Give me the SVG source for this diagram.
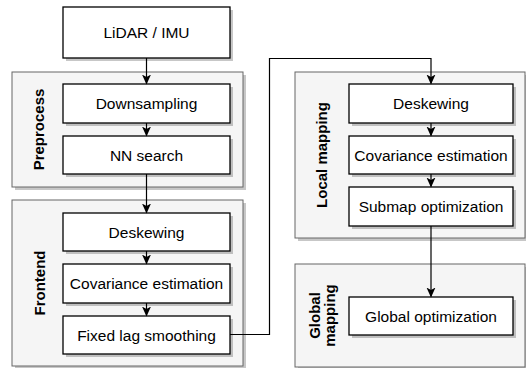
<svg xmlns="http://www.w3.org/2000/svg" width="526" height="368" viewBox="0 0 526 368">
<defs>
<marker id="arr" viewBox="0 0 10 10" refX="9" refY="5" markerWidth="10" markerHeight="10" markerUnits="userSpaceOnUse" orient="auto">
<path d="M0,0.5 L10,5 L0,9.5 L2.5,5 Z" fill="#000"/>
</marker>
</defs>
<style>
.grp{fill:#f5f5f5;stroke:#666;stroke-width:1}
.sh{fill:#000;opacity:0.22}
.box{fill:#fff;stroke:#000;stroke-width:1.3}
.t{font-family:"Liberation Sans",Arial,sans-serif;font-size:15.5px;text-anchor:middle;fill:#000}
.lbl{font-family:"Liberation Sans",Arial,sans-serif;font-size:15px;font-weight:bold;text-anchor:middle;fill:#000}
.c{fill:none;stroke:#000;stroke-width:1.2}
</style>
<rect width="526" height="368" fill="#fff"/>

<g id="preprocess">
<rect class="sh" x="15" y="75" width="231" height="115"/>
<rect class="grp" x="12" y="72" width="231" height="115"/>
<text class="lbl" transform="translate(0,129.5) rotate(-90)" x="0" y="44">Preprocess</text>
</g>
<g id="frontend">
<rect class="sh" x="15" y="203" width="231" height="166"/>
<rect class="grp" x="12" y="200" width="231" height="166"/>
<text class="lbl" transform="translate(0,283) rotate(-90)" x="0" y="44.5">Frontend</text>
</g>
<g id="local-mapping">
<rect class="sh" x="298" y="75" width="230" height="166"/>
<rect class="grp" x="295" y="72" width="230" height="166"/>
<text class="lbl" transform="translate(0,155) rotate(-90)" x="0" y="326.5">Local mapping</text>
</g>
<g id="global-mapping">
<rect class="sh" x="298" y="267" width="230" height="103"/>
<rect class="grp" x="295" y="264" width="230" height="103"/>
<text class="lbl" transform="translate(0,315.5) rotate(-90)"><tspan x="0" y="319.5">Global</tspan><tspan x="0" y="334.5">mapping</tspan></text>
</g>

<g id="lidar-imu">
<rect class="sh" x="66" y="10" width="167" height="51"/>
<rect class="box" x="63" y="7" width="167" height="51"/>
<text class="t" x="146.5" y="38">LiDAR / IMU</text>
</g>
<g id="downsampling">
<rect class="sh" x="66" y="87" width="167" height="39"/>
<rect class="box" x="63" y="84" width="167" height="39"/>
<text class="t" x="146.5" y="109">Downsampling</text>
</g>
<g id="nn-search">
<rect class="sh" x="66" y="139" width="167" height="38"/>
<rect class="box" x="63" y="136" width="167" height="38"/>
<text class="t" x="146.5" y="160.5">NN search</text>
</g>
<g id="fe-deskewing">
<rect class="sh" x="66" y="216" width="167" height="38"/>
<rect class="box" x="63" y="213" width="167" height="38"/>
<text class="t" x="146.5" y="237.5">Deskewing</text>
</g>
<g id="fe-covariance">
<rect class="sh" x="66" y="267" width="167" height="39"/>
<rect class="box" x="63" y="264" width="167" height="39"/>
<text class="t" x="146.5" y="289">Covariance estimation</text>
</g>
<g id="fixed-lag">
<rect class="sh" x="66" y="319" width="167" height="38"/>
<rect class="box" x="63" y="316" width="167" height="38"/>
<text class="t" x="146.5" y="340.5">Fixed lag smoothing</text>
</g>
<g id="lm-deskewing">
<rect class="sh" x="352" y="87" width="164" height="39"/>
<rect class="box" x="349" y="84" width="164" height="39"/>
<text class="t" x="431" y="109">Deskewing</text>
</g>
<g id="lm-covariance">
<rect class="sh" x="352" y="139" width="164" height="38"/>
<rect class="box" x="349" y="136" width="164" height="38"/>
<text class="t" x="431" y="160.5">Covariance estimation</text>
</g>
<g id="submap">
<rect class="sh" x="352" y="190" width="164" height="39"/>
<rect class="box" x="349" y="187" width="164" height="39"/>
<text class="t" x="431" y="212">Submap optimization</text>
</g>
<g id="global-opt">
<rect class="sh" x="352" y="300" width="164" height="38"/>
<rect class="box" x="349" y="297" width="164" height="38"/>
<text class="t" x="431" y="321.5">Global optimization</text>
</g>

<g id="connectors">
<path class="c" d="M146.5,58 V83.5" marker-end="url(#arr)"/>
<path class="c" d="M146.5,123 V135.5" marker-end="url(#arr)"/>
<path class="c" d="M146.5,174 V212.5" marker-end="url(#arr)"/>
<path class="c" d="M146.5,251 V263.5" marker-end="url(#arr)"/>
<path class="c" d="M146.5,303 V315.5" marker-end="url(#arr)"/>
<path class="c" d="M230,334.5 H269.5 V58.5 H431 V83.5" marker-end="url(#arr)"/>
<path class="c" d="M431,123 V135.5" marker-end="url(#arr)"/>
<path class="c" d="M431,174 V186.5" marker-end="url(#arr)"/>
<path class="c" d="M431,226 V296.5" marker-end="url(#arr)"/>
</g>
</svg>
